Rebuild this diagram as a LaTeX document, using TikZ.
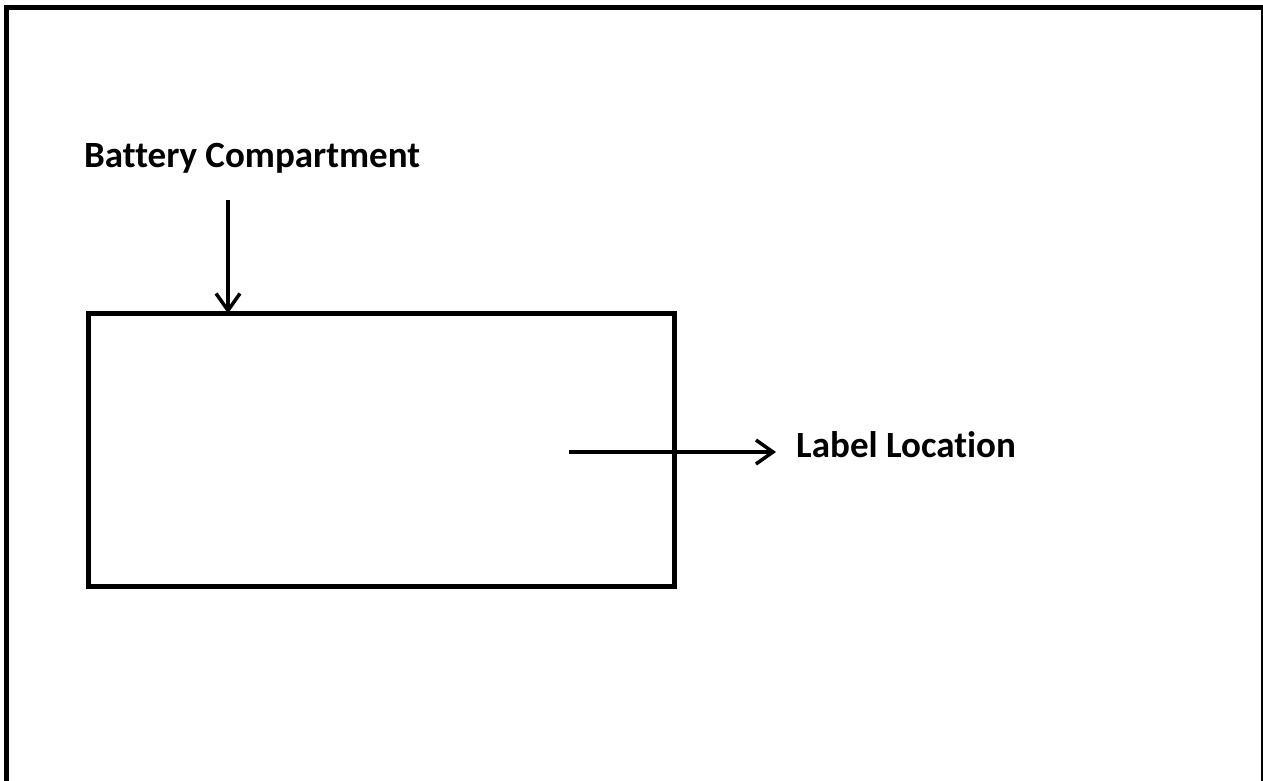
\documentclass[tikz,border=0pt]{standalone}
\usepackage{fontspec}
\setmainfont{Carlito}[Ligatures=NoCommon]
\usetikzlibrary{arrows.meta}
\tikzset{
  frameline/.style={line width=5pt, line join=miter},
  boxline/.style={draw, line width=5pt, line join=miter, inner sep=0pt, outer sep=0pt},
  arr/.style={line width=3.5pt, -{Straight Barb[length=17pt,width=24pt]}},
  lbl/.style={font=\bfseries\fontsize{37}{43}\selectfont, inner sep=0pt, anchor=base west}
}
\begin{document}
\begin{tikzpicture}[x=1pt,y=-1pt]
\useasboundingbox (0,0) rectangle (1263,780);
\clip (0,0) rectangle (1263,780);
\draw[frameline] (6.5,800) -- (6.5,7.5) -- (1263.5,7.5) -- (1263.5,800);
\node[boxline, minimum width=586pt, minimum height=272.5pt, anchor=north west] (box) at (88.5,313.5) {};
\node[lbl] (bc) at (84,167) {Battery Compartment};
\node[lbl] (ll) at (796,457) {Label Location};
\coordinate (a1) at (228,200);
\coordinate (a2) at (569,452);
\coordinate (a2e) at (776,452);
\draw[arr] (a1) -- (a1 |- box.north);
\draw[arr] (a2) -- (a2e);
\end{tikzpicture}
\end{document}
